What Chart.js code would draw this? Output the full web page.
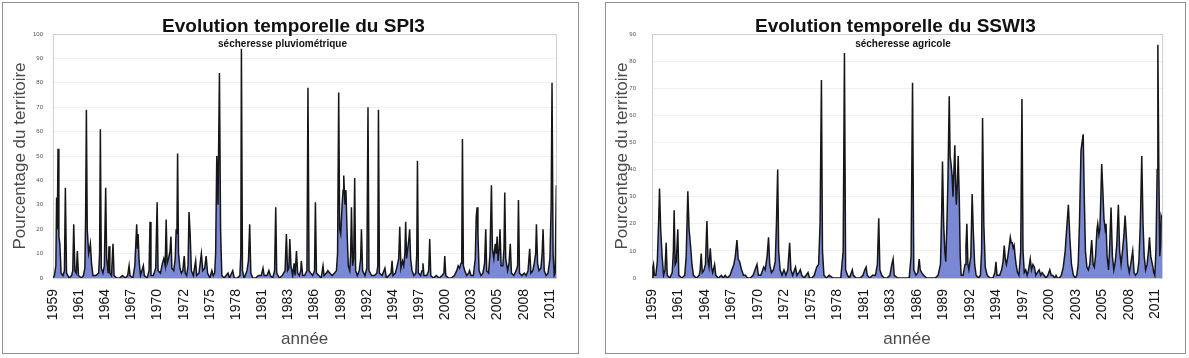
<!DOCTYPE html>
<html><head><meta charset="utf-8">
<script src="https://cdn.jsdelivr.net/npm/chart.js@4.4.1/dist/chart.umd.min.js"></script>
<style>
html,body{margin:0;padding:0;background:#fff;width:1189px;height:358px;overflow:hidden;}
.panel{position:absolute;box-sizing:border-box;border:1px solid #8e8e8e;background:#fff;}
#p1{left:2px;top:2px;width:577px;height:352px;}
#p2{left:605px;top:2px;width:581px;height:352px;}
canvas{display:block;}
</style></head><body>
<div class="panel" id="p1"><canvas id="c1" width="575" height="350" style="width:575px;height:350px"></canvas></div>
<div class="panel" id="p2"><canvas id="c2" width="579" height="350" style="width:579px;height:350px"></canvas></div>
<script>
// Tick labels of the time axis (one label every 33 months, starting Jan 1959)
const tickLabels = ['1959','1961','1964','1967','1970','1972','1975','1978','1981','1983','1986','1989','1992','1994','1997','2000','2003','2005','2008','2011'];
const yTitle = 'Pourcentage du territoire';
const xTitle = 'année';

// SPI3 : [time in years, % of territory]
const spi3 = [
[1959.00,0],[1959.15,1],[1959.30,5],[1959.38,33],[1959.45,20],[1959.53,53],[1959.62,17],[1959.72,14],[1959.85,2],
[1960.05,1],[1960.20,3],[1960.30,37],[1960.42,2],[1960.70,0],[1960.95,1],
[1961.08,3],[1961.18,22],[1961.30,3],[1961.45,2],[1961.56,11],[1961.68,1],
[1962.00,0],[1962.20,1],[1962.35,4],[1962.43,25],[1962.51,69],[1962.60,20],[1962.75,10],[1962.85,12],[1962.93,14],
[1963.05,6],[1963.20,1],[1963.50,1],[1963.80,2],[1963.90,10],[1963.98,61],
[1964.08,4],[1964.25,2],[1964.40,5],[1964.54,37],[1964.64,8],[1964.80,2],[1964.89,13],[1964.98,2],
[1965.15,1],[1965.31,14],[1965.42,1],[1965.70,0],
[1966.00,0],[1966.30,1],[1966.60,0],[1966.85,1],
[1967.00,5],[1967.10,1],[1967.40,0],[1967.60,5],[1967.72,15],[1967.80,22],[1967.88,12],[1967.95,18],
[1968.05,7],[1968.20,1],[1968.50,5],[1968.60,1],[1968.90,0],
[1969.10,3],[1969.20,23],[1969.30,1],[1969.55,1],[1969.80,4],[1969.95,31],
[1970.05,3],[1970.30,2],[1970.50,6],[1970.65,8],[1970.80,5],[1970.90,24],
[1971.00,6],[1971.15,8],[1971.30,11],[1971.40,17],[1971.50,4],[1971.70,3],[1971.85,8],[1971.95,20],
[1972.03,18],[1972.10,51],[1972.20,10],[1972.35,4],[1972.50,2],[1972.65,3],[1972.80,9],[1972.90,2],
[1973.05,1],[1973.20,5],[1973.30,27],[1973.42,18],[1973.55,3],[1973.75,1],
[1974.00,7],[1974.10,1],[1974.35,2],[1974.60,10],[1974.75,3],[1974.95,4],
[1975.10,9],[1975.25,2],[1975.50,0],[1975.70,3],[1975.85,1],
[1976.00,2],[1976.10,10],[1976.22,50],[1976.35,30],[1976.50,84],[1976.62,20],[1976.75,1],
[1977.00,0],[1977.20,1],[1977.40,2],[1977.55,0],[1977.90,3],
[1978.05,0],[1978.40,0],[1978.65,1],[1978.75,10],[1978.81,94],[1978.92,3],
[1979.10,0],[1979.40,3],[1979.55,7],[1979.68,22],[1979.80,2],
[1980.00,0],[1980.30,0],[1980.60,1],[1980.90,1],
[1981.08,4],[1981.20,1],[1981.50,1],[1981.70,3],[1981.85,1],
[1982.10,0],[1982.30,3],[1982.42,29],[1982.52,2],[1982.80,0],
[1983.10,1],[1983.40,3],[1983.54,18],[1983.66,3],[1983.80,4],[1983.90,16],
[1984.02,5],[1984.20,1],[1984.35,6],[1984.45,1],[1984.60,11],[1984.72,2],[1984.90,1],
[1985.05,3],[1985.11,7],[1985.25,1],[1985.45,1],[1985.70,3],[1985.81,78],[1985.92,3],
[1986.10,2],[1986.30,1],[1986.50,3],[1986.59,31],[1986.70,2],[1986.95,1],
[1987.20,0],[1987.39,5],[1987.50,1],[1987.75,2],[1987.90,3],
[1988.10,2],[1988.35,1],[1988.60,2],[1988.80,3],[1988.92,10],
[1989.04,76],[1989.14,20],[1989.25,18],[1989.40,30],[1989.50,36],[1989.57,42],[1989.70,30],[1989.80,36],[1989.92,19],
[1990.05,5],[1990.20,3],[1990.30,10],[1990.38,29],[1990.50,5],[1990.62,8],[1990.72,41],[1990.82,3],
[1991.00,1],[1991.20,3],[1991.35,8],[1991.43,20],[1991.55,3],[1991.80,1],
[1992.00,4],[1992.12,70],[1992.22,3],[1992.50,1],[1992.80,1],
[1993.05,2],[1993.15,5],[1993.22,69],[1993.32,2],[1993.60,1],[1993.90,4],
[1994.05,0],[1994.30,1],[1994.55,2],[1994.65,7],[1994.75,1],
[1995.00,2],[1995.20,5],[1995.35,8],[1995.46,21],[1995.58,4],[1995.75,7],[1995.88,5],
[1996.00,10],[1996.08,23],[1996.18,8],[1996.30,12],[1996.42,16],[1996.50,20],[1996.60,8],[1996.75,3],[1996.95,1],
[1997.15,2],[1997.25,10],[1997.32,48],[1997.42,2],[1997.65,1],[1997.80,3],[1997.90,6],
[1998.00,1],[1998.30,1],[1998.50,3],[1998.61,16],[1998.72,1],
[1999.00,0],[1999.30,1],[1999.60,0],[1999.90,1],
[2000.10,2],[2000.19,9],[2000.30,1],[2000.60,0],[2000.90,0],
[2001.20,1],[2001.45,3],[2001.60,5],[2001.75,4],[2001.90,6],[2001.98,10],
[2002.05,57],[2002.15,5],[2002.30,3],[2002.50,1],[2002.70,2],[2002.80,3],[2002.95,1],
[2003.20,1],[2003.40,8],[2003.50,25],[2003.59,29],[2003.68,18],[2003.80,3],
[2004.00,1],[2004.20,2],[2004.38,6],[2004.50,20],[2004.60,3],[2004.80,2],[2004.95,10],
[2005.10,38],[2005.20,12],[2005.35,8],[2005.50,14],[2005.60,10],[2005.70,17],[2005.80,7],[2005.92,12],
[2006.00,20],[2006.12,5],[2006.30,5],[2006.42,12],[2006.50,35],[2006.60,8],[2006.80,3],[2006.95,6],
[2007.08,14],[2007.20,2],[2007.45,1],[2007.70,3],[2007.85,5],[2007.94,32],
[2008.05,2],[2008.30,1],[2008.55,2],[2008.75,1],[2008.95,3],
[2009.12,12],[2009.25,2],[2009.45,3],[2009.60,6],[2009.75,10],[2009.83,22],[2009.95,6],
[2010.10,3],[2010.30,4],[2010.43,10],[2010.53,20],[2010.65,3],[2010.85,1],
[2011.05,2],[2011.25,8],[2011.38,30],[2011.47,80],[2011.58,10],[2011.70,1],[2011.80,2],[2011.92,38]
];

// SSWI3 : [time in years, % of territory]
const sswi3 = [
[1959.00,0],[1959.10,4],[1959.16,5],[1959.25,1],[1959.40,1],[1959.55,6],[1959.70,22],[1959.78,33],[1959.90,18],
[1960.05,8],[1960.20,1],[1960.35,3],[1960.47,13],[1960.58,1],[1960.85,0],
[1961.10,2],[1961.22,10],[1961.30,25],[1961.40,5],[1961.52,6],[1961.68,18],[1961.78,1],
[1962.10,0],[1962.40,1],[1962.55,8],[1962.72,32],[1962.85,18],
[1963.00,12],[1963.15,5],[1963.30,1],[1963.60,0],[1963.90,1],
[1964.00,3],[1964.11,9],[1964.22,2],[1964.40,3],[1964.55,5],[1964.70,21],[1964.82,6],[1964.92,4],
[1965.05,11],[1965.18,4],[1965.30,2],[1965.50,5],[1965.62,1],[1965.90,0],
[1966.20,1],[1966.40,0],[1966.60,1],[1966.80,0],
[1967.10,1],[1967.30,3],[1967.50,5],[1967.65,8],[1967.82,14],[1967.95,7],
[1968.10,6],[1968.30,3],[1968.50,1],[1968.70,1],[1968.90,0],
[1969.20,0],[1969.50,1],[1969.70,3],[1969.90,5],
[1970.05,1],[1970.30,1],[1970.50,3],[1970.60,4],[1970.75,3],[1970.95,8],
[1971.10,15],[1971.22,5],[1971.40,2],[1971.60,3],[1971.80,6],[1971.92,20],
[1972.05,40],[1972.15,10],[1972.30,3],[1972.50,1],[1972.70,3],[1972.90,1],
[1973.10,3],[1973.29,13],[1973.42,3],[1973.60,1],[1973.90,4],
[1974.05,1],[1974.25,2],[1974.40,3],[1974.55,1],[1974.80,0],
[1975.00,1],[1975.20,2],[1975.35,0],[1975.60,0],[1975.85,1],
[1976.10,4],[1976.30,5],[1976.45,20],[1976.59,73],[1976.70,10],[1976.85,1],
[1977.10,0],[1977.40,1],[1977.80,0],
[1978.20,0],[1978.60,0],[1978.85,10],[1978.98,83],
[1979.10,3],[1979.30,1],[1979.50,0],[1979.80,3],[1979.90,1],
[1980.20,0],[1980.60,0],[1980.90,1],
[1981.10,3],[1981.23,4],[1981.35,1],[1981.60,0],[1981.90,1],
[1982.20,1],[1982.40,5],[1982.54,22],[1982.66,3],[1982.85,1],
[1983.10,0],[1983.40,0],[1983.70,1],[1983.90,5],
[1984.03,7],[1984.15,1],[1984.50,0],[1984.80,0],
[1985.10,0],[1985.40,0],[1985.70,0],[1985.90,8],
[1986.05,72],[1986.18,3],[1986.40,1],[1986.60,2],[1986.74,7],[1986.85,3],
[1987.00,2],[1987.20,1],[1987.50,0],[1987.80,0],
[1988.10,0],[1988.40,0],[1988.70,1],[1988.95,5],
[1989.08,25],[1989.16,43],[1989.28,20],[1989.40,10],[1989.50,6],[1989.62,20],[1989.72,35],[1989.86,67],[1989.95,45],
[1990.05,42],[1990.15,38],[1990.25,30],[1990.35,40],[1990.44,49],[1990.52,35],[1990.60,27],[1990.70,35],[1990.79,45],[1990.90,30],
[1991.00,8],[1991.10,1],[1991.30,1],[1991.50,5],[1991.60,12],[1991.69,20],[1991.80,5],[1991.90,3],
[1992.10,8],[1992.24,31],[1992.35,18],[1992.50,5],[1992.65,1],[1992.90,0],
[1993.10,1],[1993.22,10],[1993.32,59],[1993.45,20],[1993.60,4],[1993.80,1],
[1994.10,0],[1994.40,0],[1994.60,2],[1994.71,6],[1994.82,1],
[1995.10,1],[1995.30,3],[1995.45,6],[1995.57,12],[1995.68,7],[1995.80,5],[1995.95,8],
[1996.10,12],[1996.20,15],[1996.30,13],[1996.40,13],[1996.50,11],[1996.60,12],[1996.70,8],[1996.80,5],[1996.95,2],
[1997.10,1],[1997.28,10],[1997.41,66],[1997.52,10],[1997.65,2],[1997.80,3],[1997.95,1],
[1998.10,3],[1998.27,7],[1998.40,3],[1998.55,5],[1998.70,4],[1998.85,1],
[1999.00,2],[1999.20,3],[1999.35,1],[1999.50,2],[1999.70,1],[1999.90,0],
[2000.10,1],[2000.30,3],[2000.45,1],[2000.60,1],[2000.80,0],[2000.95,1],
[2001.10,0],[2001.30,0],[2001.50,1],[2001.70,4],[2001.90,10],
[2002.05,18],[2002.23,27],[2002.38,15],[2002.55,5],[2002.75,1],[2002.95,0],
[2003.10,1],[2003.25,5],[2003.38,20],[2003.54,47],[2003.65,50],[2003.77,53],[2003.88,30],
[2004.00,10],[2004.15,4],[2004.30,3],[2004.45,5],[2004.65,14],[2004.80,5],[2004.92,4],
[2005.05,8],[2005.20,18],[2005.28,20],[2005.40,16],[2005.50,18],[2005.60,30],[2005.69,42],[2005.80,33],[2005.92,22],
[2006.05,18],[2006.14,20],[2006.25,8],[2006.40,3],[2006.50,10],[2006.66,26],[2006.80,8],[2006.95,3],
[2007.10,6],[2007.25,12],[2007.42,27],[2007.55,10],[2007.70,5],[2007.85,10],
[2008.00,16],[2008.12,23],[2008.25,15],[2008.40,5],[2008.55,2],[2008.70,5],[2008.91,10],
[2009.05,2],[2009.20,1],[2009.40,2],[2009.55,6],[2009.70,20],[2009.85,45],[2009.98,20],
[2010.10,8],[2010.25,3],[2010.40,5],[2010.55,10],[2010.65,15],[2010.78,8],[2010.95,5],
[2011.10,2],[2011.20,1],[2011.32,10],[2011.45,40],[2011.52,86],[2011.62,40],[2011.72,8],[2011.80,12],[2011.86,23],[2011.95,22]
];

const FONT = '"Liberation Sans", Arial, Helvetica, sans-serif';

const panelText = {
  id: 'panelText',
  beforeDatasetsDraw(chart, args, o) {
    const {ctx, chartArea: a} = chart;
    ctx.save();
    ctx.strokeStyle = '#cfcfcf';
    ctx.lineWidth = 1;
    ctx.strokeRect(Math.round(a.left) + 0.5, Math.round(a.top) + 0.5, Math.round(a.right - a.left), Math.round(a.bottom - a.top));
    ctx.restore();
  },
  afterDraw(chart, args, o) {
    const ctx = chart.ctx;
    ctx.save();
    ctx.fillStyle = '#111';
    ctx.textAlign = 'center';
    ctx.textBaseline = 'alphabetic';
    ctx.font = 'bold 19px ' + FONT;
    ctx.fillText(o.title, o.titleX, o.titleY);
    ctx.font = 'bold 10px ' + FONT;
    ctx.fillText(o.subtitle, o.subX, o.subY);
    ctx.restore();
  }
};

function makeChart(id, points, c) {
  return new Chart(document.getElementById(id), {
    type: 'line',
    data: {
      datasets: [{
        data: points.map(p => ({x: p[0], y: p[1]})),
        borderColor: '#161616',
        borderWidth: 1.5,
        backgroundColor: 'rgb(122,137,214)',
        fill: 'origin',
        tension: 0,
        pointRadius: 0,
        pointHoverRadius: 0
      }]
    },
    options: {
      responsive: false,
      animation: false,
      events: [],
      layout: {padding: {left: 0, right: c.rightPad, top: 31, bottom: 0}},
      plugins: {
        legend: {display: false},
        tooltip: {enabled: false},
        title: {display: false},
        panelText: {title: c.title, subtitle: c.subtitle, titleX: c.titleX, titleY: 28.7, subX: c.subX, subY: 43.5}
      },
      scales: {
        x: {
          type: 'linear',
          min: 1959,
          max: c.xMax,
          afterFit: s => { s.height = 75; },
          afterBuildTicks: s => { s.ticks = tickLabels.map((l, i) => ({value: 1959 + i * 33 / 12})); },
          grid: {display: false, drawTicks: false},
          border: {display: false},
          ticks: {
            autoSkip: false, maxRotation: 90, minRotation: 90, padding: 11,
            color: '#111', font: {family: FONT, size: 14},
            callback: (v, i) => tickLabels[i]
          },
          title: {display: true, text: xTitle, color: '#4a4a4a', font: {family: FONT, size: 17}, padding: {top: 0, bottom: 3}}
        },
        y: {
          min: 0,
          max: c.yMax,
          afterFit: s => { s.width = c.yWidth; },
          grid: {color: '#efefef', lineWidth: 1, drawTicks: false},
          border: {display: false},
          ticks: {stepSize: 10, padding: c.yTickPad, color: '#555', font: {family: FONT, size: 6}},
          title: {display: true, text: yTitle, color: '#4a4a4a', font: {family: FONT, size: 17}, padding: {top: c.yTitlePad, bottom: 0}}
        }
      }
    },
    plugins: [panelText]
  });
}

makeChart('c1', spi3, {
  title: 'Evolution temporelle du SPI3', subtitle: 'sécheresse pluviométrique',
  titleX: 290.5, subX: 279.5, rightPad: 21, yWidth: 50, yTickPad: 10, yTitlePad: 7, yMax: 100, xMax: 2011.92
});
makeChart('c2', sswi3, {
  title: 'Evolution temporelle du SSWI3', subtitle: 'sécheresse agricole',
  titleX: 289.4, subX: 297, rightPad: 23, yWidth: 46, yTickPad: 16, yTitlePad: 6, yMax: 90, xMax: 2011.95
});
</script>
</body></html>
